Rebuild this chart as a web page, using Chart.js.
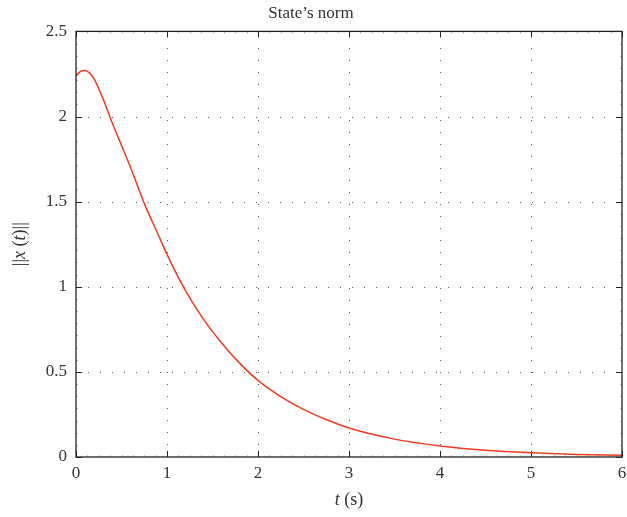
<!DOCTYPE html>
<html>
<head>
<meta charset="utf-8">
<script src="https://cdn.jsdelivr.net/npm/chart.js@4"></script>
<style>
  html, body { margin: 0; padding: 0; background: #fff; }
  #wrap { width: 627px; height: 517px; }
</style>
</head>
<body>
<div id="wrap"><canvas id="stage"></canvas></div>
<script>
// time (s) and state norm
const times = [0, 0.05, 0.1, 0.15, 0.2, 0.3, 0.4, 0.5, 0.6, 0.75, 0.9, 1.0, 1.2, 1.4, 1.6, 1.8, 2.0, 2.25, 2.5, 2.75, 3.0, 3.5, 4.0, 4.5, 5.0, 5.5, 6.0];
const normValues = [2.24, 2.265, 2.27, 2.255, 2.22, 2.10, 1.96, 1.83, 1.70, 1.49, 1.31, 1.19, 0.98, 0.81, 0.67, 0.55, 0.45, 0.355, 0.28, 0.22, 0.17, 0.105, 0.065, 0.04, 0.025, 0.015, 0.01];
const xTicks = [0, 1, 2, 3, 4, 5, 6];
const yTicks = [0, 0.5, 1, 1.5, 2, 2.5];

const serif = '"Liberation Serif", "DejaVu Serif", serif';

// matlab-like box: dotted grid, inward ticks, axis titles
const boxPlugin = {
  id: 'box',
  beforeDatasetsDraw(chart) {
    const { ctx, chartArea: a, scales: { x, y } } = chart;
    ctx.save();
    // dotted grid
    ctx.strokeStyle = '#555';
    ctx.lineWidth = 1;
    ctx.setLineDash([1, 11]);
    xTicks.slice(1, -1).forEach(v => {
      const px = Math.round(x.getPixelForValue(v)) + 0.5;
      ctx.beginPath(); ctx.moveTo(px, a.bottom); ctx.lineTo(px, a.top); ctx.stroke();
    });
    yTicks.slice(1, -1).forEach(v => {
      const py = Math.round(y.getPixelForValue(v)) + 0.5;
      ctx.beginPath(); ctx.moveTo(a.left, py); ctx.lineTo(a.right, py); ctx.stroke();
    });
    ctx.setLineDash([]);
    // minor ticks
    ctx.strokeStyle = '#bbb';
    for (let i = 0; i < 6; i++) {
      for (let k = 1; k < 8; k++) {
        const px = Math.round(x.getPixelForValue(i + k / 8)) + 0.5;
        ctx.beginPath(); ctx.moveTo(px, a.bottom); ctx.lineTo(px, a.bottom - 2); ctx.stroke();
        ctx.beginPath(); ctx.moveTo(px, a.top); ctx.lineTo(px, a.top + 2); ctx.stroke();
      }
    }
    for (let i = 0; i < 5; i++) {
      for (let k = 1; k < 7; k++) {
        const py = Math.round(y.getPixelForValue(i * 0.5 + k * 0.5 / 7)) + 0.5;
        ctx.beginPath(); ctx.moveTo(a.left, py); ctx.lineTo(a.left + 2, py); ctx.stroke();
        ctx.beginPath(); ctx.moveTo(a.right, py); ctx.lineTo(a.right - 2, py); ctx.stroke();
      }
    }
    // major ticks
    ctx.strokeStyle = '#222';
    xTicks.forEach(v => {
      const px = Math.round(x.getPixelForValue(v)) + 0.5;
      ctx.beginPath(); ctx.moveTo(px, a.bottom); ctx.lineTo(px, a.bottom - 6); ctx.stroke();
      ctx.beginPath(); ctx.moveTo(px, a.top); ctx.lineTo(px, a.top + 6); ctx.stroke();
    });
    yTicks.forEach(v => {
      const py = Math.round(y.getPixelForValue(v)) + 0.5;
      ctx.beginPath(); ctx.moveTo(a.left, py); ctx.lineTo(a.left + 6, py); ctx.stroke();
      ctx.beginPath(); ctx.moveTo(a.right, py); ctx.lineTo(a.right - 6, py); ctx.stroke();
    });
    ctx.restore();
  },
  afterDraw(chart) {
    const { ctx, chartArea: a } = chart;
    ctx.save();
    // box
    ctx.strokeStyle = '#222';
    ctx.lineWidth = 1.3;
    ctx.strokeRect(a.left, a.top, a.right - a.left, a.bottom - a.top);

    ctx.fillStyle = '#333';
    ctx.textBaseline = 'middle';
    const drawParts = (parts, cx, cy) => {
      let w = 0;
      parts.forEach(p => { ctx.font = p[1] + ' 18px ' + serif; w += ctx.measureText(p[0]).width; });
      let xx = cx - w / 2;
      ctx.textAlign = 'left';
      parts.forEach(p => {
        ctx.font = p[1] + ' 18px ' + serif;
        ctx.fillText(p[0], xx, cy);
        xx += ctx.measureText(p[0]).width;
      });
    };
    // x axis title
    drawParts([['t', 'italic'], [' (s)', 'normal']], (a.left + a.right) / 2, 500);
    // y axis title
    ctx.translate(20, (a.top + a.bottom) / 2);
    ctx.rotate(-Math.PI / 2);
    drawParts([['||', 'normal'], ['x', 'italic'], [' (', 'normal'], ['t', 'italic'], [')||', 'normal']], 0, 0);
    ctx.restore();
  }
};

new Chart(document.getElementById('stage'), {
  type: 'line',
  data: {
    datasets: [{
      data: times.map((t, i) => ({ x: t, y: normValues[i] })),
      borderColor: '#ec3d23',
      borderWidth: 1.5,
      pointRadius: 0,
      cubicInterpolationMode: 'monotone',
      fill: false
    }]
  },
  options: {
    responsive: true,
    maintainAspectRatio: false,
    animation: false,
    layout: { padding: { left: 0, right: 5, top: 0, bottom: 0 } },
    plugins: {
      legend: { display: false },
      tooltip: { enabled: false },
      title: {
        display: true,
        text: 'State\u2019s norm',
        color: '#333',
        font: { family: serif, size: 17, weight: 'normal' },
        padding: { top: 3, bottom: 8 }
      }
    },
    scales: {
      x: {
        type: 'linear',
        min: 0,
        max: 6,
        afterBuildTicks: s => { s.ticks = xTicks.map(v => ({ value: v })); },
        afterFit: s => { s.height = 60; s.paddingRight = 0; s.paddingLeft = 0; },
        grid: { display: false, drawTicks: false },
        border: { display: false },
        ticks: { color: '#333', padding: 6, maxRotation: 0, font: { family: serif, size: 17 }, callback: v => String(v) }
      },
      y: {
        min: 0,
        max: 2.5,
        afterBuildTicks: s => { s.ticks = yTicks.map(v => ({ value: v })); },
        afterFit: s => { s.width = 76; },
        grid: { display: false, drawTicks: false },
        border: { display: false },
        ticks: { color: '#333', padding: 9, font: { family: serif, size: 17 }, callback: v => String(v) }
      }
    }
  },
  plugins: [boxPlugin]
});
</script>
</body>
</html>
